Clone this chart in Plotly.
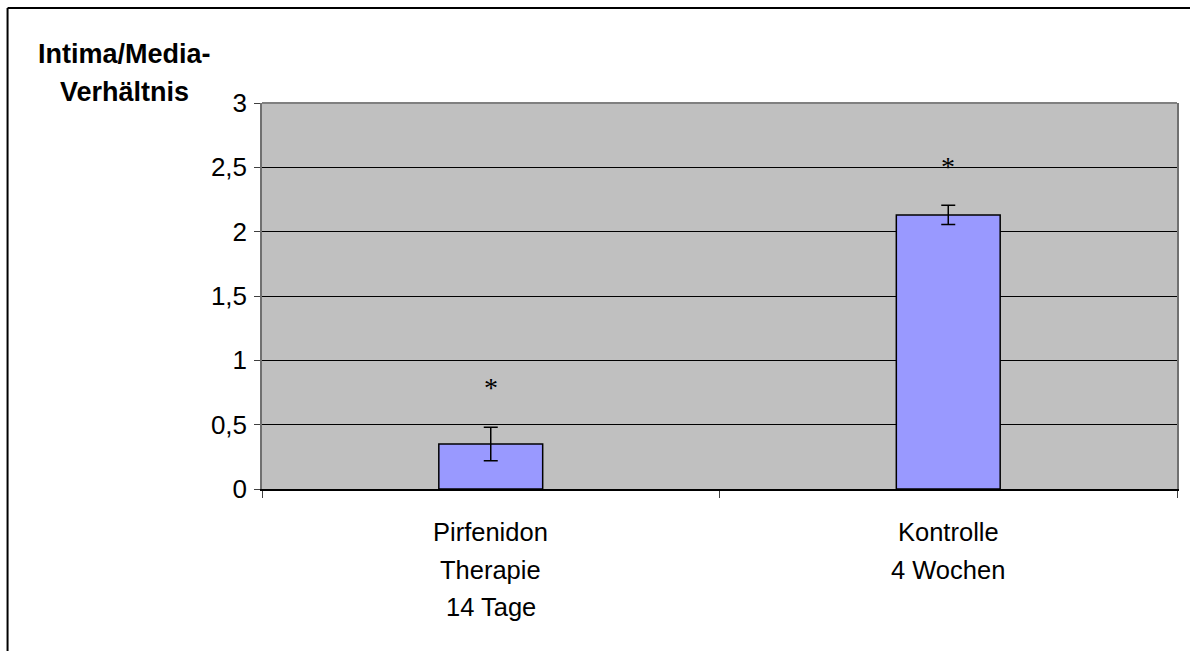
import plotly.graph_objects as go

categories = ["Pirfenidon\nTherapie\n14 Tage", "Kontrolle\n4 Wochen"]
cat_keys = ["Pirfenidon", "Kontrolle"]
values = [0.35, 2.13]
errors = [0.13, 0.075]
star_y = [0.81, 2.53]
ytick_vals = [0, 0.5, 1, 1.5, 2, 2.5, 3]
ytick_text = ["0", "0,5", "1", "1,5", "2", "2,5", "3"]
y_title_lines = ["Intima/Media-", "Verhältnis"]

L, R, T, B = 262, 11, 103, 162
W, H = 1190, 651
pw, ph = W - L - R, H - T - B

def px_to_paper_x(px):
    return (px - L) / pw

def px_to_paper_y(py):
    return (H - B - py) / ph

fig = go.Figure()
fig.add_trace(go.Bar(
    x=cat_keys, y=values,
    marker=dict(color="#9999FF", line=dict(color="black", width=1.5)),
    error_y=dict(type="data", array=errors, visible=True, color="black",
                 thickness=1.5, width=7),
    width=0.227,
))

annotations = []
for k, s in zip(cat_keys, star_y):
    annotations.append(dict(x=k, y=s, xref="x", yref="y", text="*", showarrow=False,
                            font=dict(family="Liberation Serif", size=28, color="black"),
                            yanchor="middle", yshift=-3))
for k, c in zip(cat_keys, categories):
    for i, line in enumerate(c.split("\n")):
        annotations.append(dict(x=k, y=0, xref="x", yref="y", text=line, showarrow=False,
                                font=dict(family="Liberation Sans", size=25.5, color="black"),
                                yanchor="middle", yshift=-(43 + 37.5 * i)))
for i, line in enumerate(y_title_lines):
    annotations.append(dict(x=px_to_paper_x(124), y=px_to_paper_y(54 + 38 * i),
                            xref="paper", yref="paper", text="<b>" + line + "</b>",
                            showarrow=False, xanchor="center", yanchor="middle",
                            font=dict(family="Liberation Sans", size=27, color="black")))

shapes = [
    dict(type="line", xref="paper", yref="paper", x0=px_to_paper_x(7), x1=px_to_paper_x(7),
         y0=px_to_paper_y(660), y1=px_to_paper_y(8), line=dict(color="black", width=2)),
    dict(type="line", xref="paper", yref="paper", x0=px_to_paper_x(7), x1=px_to_paper_x(1200),
         y0=px_to_paper_y(8), y1=px_to_paper_y(8), line=dict(color="black", width=2)),
    dict(type="line", xref="paper", yref="paper", x0=0, x1=1, y0=1, y1=1,
         line=dict(color="#808080", width=2)),
]

fig.update_layout(
    width=W, height=H,
    margin=dict(l=L, r=R, t=T, b=B, pad=0),
    paper_bgcolor="white", plot_bgcolor="#C0C0C0",
    showlegend=False,
    annotations=annotations, shapes=shapes,
    font=dict(family="Liberation Sans", size=24, color="black"),
)
fig.update_xaxes(
    type="category", showticklabels=False, ticks="outside", ticklen=7,
    tickson="boundaries", tickcolor="#404040", showline=True, linecolor="black",
    linewidth=1.5, showgrid=False, range=[-0.5, 1.5],
)
fig.update_yaxes(
    range=[0, 3], tickvals=ytick_vals, ticktext=ytick_text, ticks="outside",
    ticklen=6, tickcolor="#404040", showline=True, linecolor="#707070", linewidth=1.5,
    mirror=True, showgrid=True, gridcolor="black", gridwidth=1, zeroline=False,
    tickfont=dict(family="Liberation Sans", size=26, color="black"), ticklabelstandoff=2,
)

fig.write_html("out.html", config={"displayModeBar": False},
               post_script="document.body.style.margin='0';")
